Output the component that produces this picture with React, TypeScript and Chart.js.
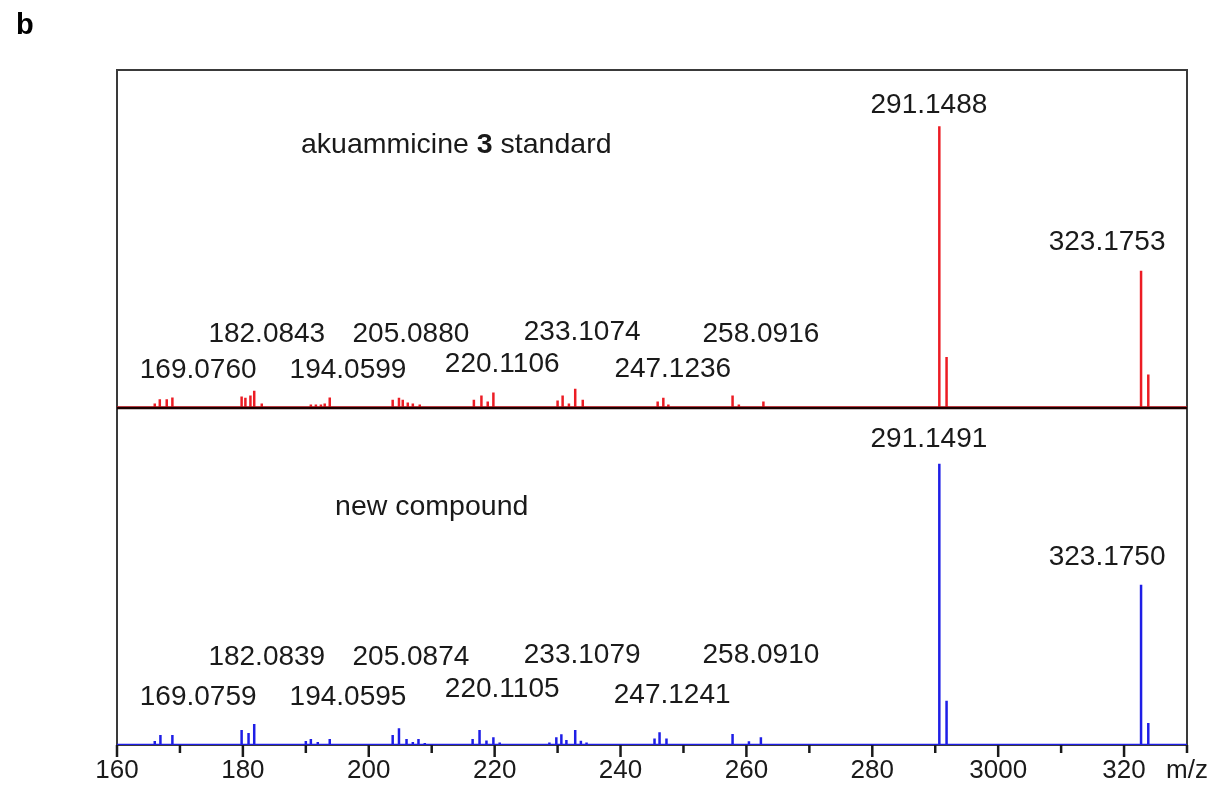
import React, { useEffect, useRef } from 'react';
import { Chart, registerables } from 'chart.js';

Chart.register(...registerables);

// ---------- data ----------
const xMin = 160;
const xMax = 330;
const xTickStep = 10;
const xTickValues = [160, 180, 200, 220, 240, 260, 280, 300, 320];
const xTickLabels = ['160', '180', '200', '220', '240', '260', '280', '3000', '320'];
const xAxisTitle = 'm/z';
const panelLetter = 'b';

// akuammicine 3 standard (red) – peak positions
const standardMz = [
  166.0, 166.8, 167.9, 168.8,
  179.8, 180.4, 181.2, 181.8, 183.0,
  190.8, 191.6, 192.4, 193.0, 193.8,
  203.8, 204.8, 205.4, 206.2, 207.0, 208.1,
  216.7, 217.9, 218.9, 219.8,
  230.0, 230.8, 231.8, 232.8, 234.0,
  245.9, 246.8, 247.6,
  257.8, 258.8, 262.7,
  290.65, 291.8,
  322.7, 323.85,
];
const standardIntensity = [
  1.4, 2.9, 2.9, 3.6,
  3.9, 3.5, 4.3, 6.0, 1.4,
  1.1, 1.1, 1.1, 1.4, 3.6,
  2.8, 3.5, 2.8, 1.8, 1.4, 1.1,
  2.8, 4.3, 2.1, 5.3,
  2.5, 4.3, 1.4, 6.7, 2.8,
  2.1, 3.5, 1.1,
  4.3, 1.1, 2.1,
  100, 18,
  48.6, 11.7,
];

// new compound (blue)
const newMz = [
  166.0, 166.9, 168.8, 170.4,
  179.8, 180.9, 181.8, 184.2,
  190.0, 190.8, 191.9, 193.8,
  203.8, 204.8, 206.0, 207.0, 207.9, 208.9,
  216.5, 217.6, 218.7, 219.8, 220.8,
  228.7, 229.8, 230.6, 231.4, 232.8, 233.7, 234.6,
  245.4, 246.2, 247.3,
  257.8, 260.4, 262.3,
  290.65, 291.8,
  322.7, 323.85,
];
const newIntensity = [
  1.4, 3.6, 3.6, 0.4,
  5.3, 4.3, 7.5, 0.4,
  1.4, 2.1, 1.1, 2.1,
  3.6, 6.0, 2.1, 1.1, 2.1, 0.7,
  2.1, 5.3, 1.6, 2.8, 0.9,
  0.9, 2.8, 3.8, 1.8, 5.3, 1.5, 0.9,
  2.3, 4.5, 2.3,
  3.9, 1.3, 2.8,
  100, 15.7,
  57, 7.8,
];

// peak annotations (text, position in axis units)
const standardLabelText = ['291.1488', '323.1753', '182.0843', '205.0880', '169.0760', '194.0599', '220.1106', '233.1074', '247.1236', '258.0916'];
const standardLabelX = [289.0, 317.3, 183.8, 206.7, 172.9, 196.7, 221.2, 233.9, 248.3, 262.3];
const standardLabelY = [107.6, 58.6, 26.2, 26.2, 13.1, 13.1, 15.3, 26.6, 13.5, 26.2];

const newLabelText = ['291.1491', '323.1750', '182.0839', '205.0874', '169.0759', '194.0595', '220.1105', '233.1079', '247.1241', '258.0910'];
const newLabelX = [289.0, 317.3, 183.8, 206.7, 172.9, 196.7, 221.2, 233.9, 248.2, 262.3];
const newLabelY = [108.6, 66.7, 31.2, 31.2, 17.0, 17.0, 19.9, 31.9, 17.7, 31.9];

// panel titles
const standardTitleParts = ['akuammicine ', '3', ' standard'];
const standardTitleBold = [false, true, false];
const standardTitleX = 213.9;
const standardTitleY = 93.4;
const newTitleParts = ['new compound'];
const newTitleBold = [false];
const newTitleX = 210.0;
const newTitleY = 84.5;

const yMax = 120;

// ---------- styles ----------
const FONT = '"Liberation Sans", Arial, Helvetica, sans-serif';
const RED = '#ec1c24';
const BLUE = '#1e1ee6';
const INK = '#1a1a1a';

function sticks(mz: number[], inten: number[]) {
  const pts: { x: number; y: number }[] = [{ x: xMin, y: 0 }];
  mz.forEach((m, i) => {
    pts.push({ x: m, y: 0 }, { x: m, y: inten[i] }, { x: m, y: 0 });
  });
  pts.push({ x: xMax, y: 0 });
  return pts;
}

const decorPlugin = {
  id: 'decor',
  beforeDatasetsDraw(chart: any) {
    const { ctx, chartArea: a } = chart;
    ctx.save();
    ctx.strokeStyle = '#3a3a3a';
    ctx.lineWidth = 2;
    ctx.strokeRect(a.left, a.top, a.right - a.left, a.bottom - a.top);
    ctx.restore();
  },
  afterDatasetsDraw(chart: any) {
    const { ctx, chartArea: a, scales } = chart;
    const xs = scales.x;
    const yT = scales.yTop;
    const yB = scales.yBot;
    ctx.save();
    // divider / top-panel baseline
    ctx.strokeStyle = '#1a0000';
    ctx.lineWidth = 2.5;
    ctx.beginPath();
    ctx.moveTo(a.left, yT.getPixelForValue(0) + 0.5);
    ctx.lineTo(a.right, yT.getPixelForValue(0) + 0.5);
    ctx.stroke();

    // tick marks
    ctx.strokeStyle = INK;
    ctx.lineWidth = 2.5;
    for (let v = xMin; v <= xMax; v += xTickStep) {
      const x = xs.getPixelForValue(v);
      const len = (v - xMin) % 20 === 0 ? 12 : 8;
      ctx.beginPath();
      ctx.moveTo(x, a.bottom);
      ctx.lineTo(x, a.bottom + len);
      ctx.stroke();
    }

    // peak labels
    ctx.fillStyle = INK;
    ctx.font = `28px ${FONT}`;
    ctx.textAlign = 'center';
    ctx.textBaseline = 'middle';
    standardLabelText.forEach((t, i) => {
      ctx.fillText(t, xs.getPixelForValue(standardLabelX[i]), yT.getPixelForValue(standardLabelY[i]));
    });
    newLabelText.forEach((t, i) => {
      ctx.fillText(t, xs.getPixelForValue(newLabelX[i]), yB.getPixelForValue(newLabelY[i]));
    });

    // panel titles
    const drawParts = (parts: string[], bold: boolean[], cx: number, cy: number) => {
      const widths = parts.map((p, i) => {
        ctx.font = `${bold[i] ? 'bold ' : ''}28.5px ${FONT}`;
        return ctx.measureText(p).width;
      });
      const total = widths.reduce((s, w) => s + w, 0);
      let x = cx - total / 2;
      ctx.textAlign = 'left';
      parts.forEach((p, i) => {
        ctx.font = `${bold[i] ? 'bold ' : ''}28.5px ${FONT}`;
        ctx.fillText(p, x, cy);
        x += widths[i];
      });
    };
    drawParts(standardTitleParts, standardTitleBold, xs.getPixelForValue(standardTitleX), yT.getPixelForValue(standardTitleY));
    drawParts(newTitleParts, newTitleBold, xs.getPixelForValue(newTitleX), yB.getPixelForValue(newTitleY));

    // panel letter
    ctx.font = `bold 29px ${FONT}`;
    ctx.textAlign = 'left';
    ctx.textBaseline = 'alphabetic';
    ctx.fillStyle = '#000';
    ctx.fillText(panelLetter, 16, 34);
    ctx.restore();
  },
};

export default function App() {
  const ref = useRef<HTMLCanvasElement | null>(null);
  useEffect(() => {
    document.body.style.margin = '0';
    if (!ref.current) return;
    const chart = new Chart(ref.current, {
      type: 'scatter',
      data: {
        datasets: [
          {
            label: 'akuammicine 3 standard',
            data: sticks(standardMz, standardIntensity),
            yAxisID: 'yTop',
            showLine: true,
            borderColor: RED,
            backgroundColor: RED,
            borderWidth: 2.5,
            pointRadius: 0,
            tension: 0,
            borderJoinStyle: 'bevel',
          },
          {
            label: 'new compound',
            data: sticks(newMz, newIntensity),
            yAxisID: 'yBot',
            showLine: true,
            borderColor: BLUE,
            backgroundColor: BLUE,
            borderWidth: 2.5,
            pointRadius: 0,
            tension: 0,
            borderJoinStyle: 'bevel',
          },
        ],
      },
      options: {
        animation: false,
        responsive: false,
        events: [],
        layout: { padding: { left: 117, right: 36, top: 70, bottom: 0 } },
        plugins: { legend: { display: false }, tooltip: { enabled: false } },
        scales: {
          x: {
            type: 'linear',
            min: xMin,
            max: xMax,
            grid: { display: false, drawTicks: false },
            border: { display: false },
            afterFit: (s: any) => { s.height = 48; },
            ticks: {
              stepSize: xTickStep,
              autoSkip: false,
              maxRotation: 0,
              padding: 10,
              color: INK,
              font: { family: FONT, size: 26 },
              callback: (v: any) => {
                const i = xTickValues.indexOf(Number(v));
                if (i >= 0) return xTickLabels[i];
                if (Number(v) === xMax) return xAxisTitle;
                return '';
              },
            },
          },
          yTop: {
            type: 'linear',
            position: 'left',
            stack: 'panels',
            stackWeight: 1,
            weight: 2,
            min: 0,
            max: yMax,
            grid: { display: false, drawTicks: false },
            border: { display: false },
            ticks: { display: false },
            afterFit: (s: any) => { s.width = 0; },
          },
          yBot: {
            type: 'linear',
            position: 'left',
            stack: 'panels',
            stackWeight: 1,
            weight: 1,
            min: 0,
            max: yMax,
            grid: { display: false, drawTicks: false },
            border: { display: false },
            ticks: { display: false },
            afterFit: (s: any) => { s.width = 0; },
          },
        },
      } as any,
      plugins: [decorPlugin],
    });
    return () => chart.destroy();
  }, []);
  return (
    <div style={{ position: 'fixed', left: 0, top: 0, width: 1223, height: 793, background: '#fff' }}>
      <canvas ref={ref} width={1223} height={793} style={{ display: 'block' }} />
    </div>
  );
}
